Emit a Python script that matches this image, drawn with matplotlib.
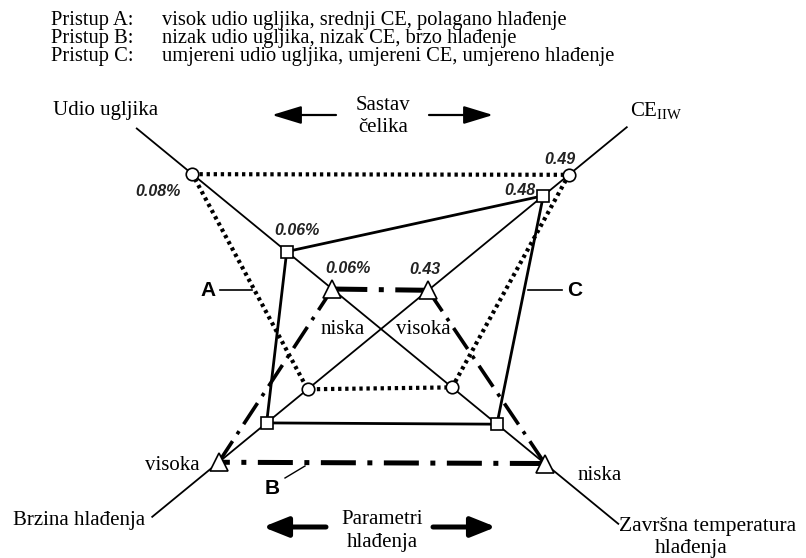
import numpy as np
import matplotlib
matplotlib.use("Agg")
import matplotlib.pyplot as plt

plt.rcParams['mathtext.fontset'] = 'custom'
plt.rcParams['mathtext.rm'] = 'Liberation Serif'

# ---------------- data ----------------
header_keys = ["Pristup A:", "Pristup B:", "Pristup C:"]
header_texts = ["visok udio ugljika, srednji CE, polagano hlađenje",
                "nizak udio ugljika, nizak CE, brzo hlađenje",
                "umjereni udio ugljika, umjereni CE, umjereno hlađenje"]

# axes of the diagram: upper-left, upper-right, lower-right, lower-left
axis_names = ["Udio ugljika", "CE$_{\\mathrm{IIW}}$", "Završna temperatura\nhlađenja", "Brzina hlađenja"]
axis_length = [316, 318, 307, 296]          # diagram units from centre

# position of each approach along each axis (diagram units from centre)
radius_A = [244, 243, 92, 95]
radius_B = [63, 61, 212, 210]
radius_C = [122, 210, 150, 148]

value_labels_A = ["0.08%", "0.49"]
value_labels_B = ["0.06%", "0.43"]
value_labels_C = ["0.06%", "0.48"]

# ---------------- geometry ----------------
W, H = 806, 558
fig = plt.figure(figsize=(W / 100, H / 100), dpi=100)
ax = fig.add_axes([0, 0, 1, 1])
ax.set_xlim(0, W)
ax.set_ylim(H, 0)
ax.axis('off')

cx, cy = 381, 329
theta = np.arctan(0.821)
c, s = np.cos(theta), np.sin(theta)
dirs = np.array([[-c, -s], [c, -s], [c, s], [-c, s]])


def pts(radii):
    r = np.asarray(radii, float)[:, None]
    return np.array([cx, cy]) + r * dirs


serif = 'Liberation Serif'
sans = 'Liberation Sans'

# axis lines
ends = pts(axis_length)
ax.plot([ends[0, 0], ends[2, 0]], [ends[0, 1], ends[2, 1]], color='k', lw=1.3, zorder=1)
ax.plot([ends[1, 0], ends[3, 0]], [ends[1, 1], ends[3, 1]], color='k', lw=1.3, zorder=1)

# approach A: dotted, circles
pA = pts(radius_A)
polyA = np.vstack([pA, pA[:1]])
ax.plot(polyA[:, 0], polyA[:, 1], color='k', lw=3.0, linestyle=(0, (0.8, 0.9)),
        dash_capstyle='butt', zorder=2)
ax.plot(pA[:, 0], pA[:, 1], 'o', ms=9, mfc='white', mec='k', mew=1.2, zorder=5)

# approach B: dash-dot, triangles
pB = pts(radius_B)
for i in range(4):
    a, b = pB[i], pB[(i + 1) % 4]
    horiz = i in (0, 2)
    lw = 3.6 if horiz else 2.6
    ax.plot([a[0], b[0]], [a[1], b[1]], color='k', lw=lw,
            linestyle=(0, (7, 2.3, 1, 2.3)), dash_capstyle='butt', zorder=2)
ax.plot(pB[:, 0], pB[:, 1], '^', ms=13, mfc='white', mec='k', mew=1.2, zorder=5)

# approach C: solid, squares
pC = pts(radius_C)
polyC = np.vstack([pC, pC[:1]])
ax.plot(polyC[:, 0], polyC[:, 1], color='k', lw=2.0, zorder=3)
ax.plot(pC[:, 0], pC[:, 1], 's', ms=8, mfc='white', mec='k', mew=1.2, zorder=5)

# value labels
vfont = dict(family=sans, fontsize=11.5, fontweight='bold', fontstyle='italic', color='#222222')
ax.text(pA[0, 0] - 12, pA[0, 1] + 17, value_labels_A[0], ha='right', va='center', **vfont)
ax.text(pA[1, 0] - 9, pA[1, 1] - 15, value_labels_A[1], ha='center', va='center', **vfont)
ax.text(pB[0, 0] + 16, pB[0, 1] - 21, value_labels_B[0], ha='center', va='center', **vfont)
ax.text(pB[1, 0] - 3, pB[1, 1] - 21, value_labels_B[1], ha='center', va='center', **vfont)
ax.text(pC[0, 0] + 10, pC[0, 1] - 21, value_labels_C[0], ha='center', va='center', **vfont)
ax.text(pC[1, 0] - 8, pC[1, 1] - 5, value_labels_C[1], ha='right', va='center', **vfont)

# header
for i, (k, t) in enumerate(zip(header_keys, header_texts)):
    y = 25.5 + i * 18
    ax.text(51, y, k, family=serif, fontsize=14.8, ha='left', va='baseline')
    ax.text(162, y, t, family=serif, fontsize=14.8, ha='left', va='baseline')

lab = dict(family=serif, fontsize=15)
ax.text(53, 115, axis_names[0], ha='left', va='baseline', **lab)
ax.text(630, 116, axis_names[1], ha='left', va='baseline', **lab)
ax.text(619, 527, "Završna temperatura", ha='left', va='center', family=serif, fontsize=15.5)
ax.text(655, 549, "hlađenja", ha='left', va='center', family=serif, fontsize=15.5)
ax.text(13, 520, axis_names[3], ha='left', va='center', **lab)

ax.text(343, 329, "niska", ha='center', va='center', **lab)
ax.text(423, 329, "visoka", ha='center', va='center', **lab)
ax.text(172, 465, "visoka", ha='center', va='center', **lab)
ax.text(600, 475, "niska", ha='center', va='center', **lab)

ax.text(383, 105, "Sastav", ha='center', va='center', **lab)
ax.text(383, 128, "čelika", ha='center', va='center', **lab)
ax.text(382, 519, "Parametri", ha='center', va='center', **lab)
ax.text(382, 543, "hlađenja", ha='center', va='center', **lab)

# arrows
thin = dict(arrowstyle='-|>,head_length=1.8,head_width=0.55', color='k', lw=1.6,
            shrinkA=0, shrinkB=0)
ax.annotate('', xy=(272, 115), xytext=(336, 115), arrowprops=thin)
ax.annotate('', xy=(493, 115), xytext=(429, 115), arrowprops=thin)
thick = dict(arrowstyle='-|>,head_length=1.5,head_width=0.6', color='k', lw=3.6,
             shrinkA=0, shrinkB=0)
ax.annotate('', xy=(263, 527), xytext=(326, 527), arrowprops=thick)
ax.annotate('', xy=(496, 527), xytext=(433, 527), arrowprops=thick)

# approach letters with leader lines
bl = dict(family=sans, fontsize=15, fontweight='bold', ha='center', va='center')
ax.text(208, 290, "A", **bl)
ax.plot([220, 252], [290, 290], color='k', lw=1.2)
ax.text(575, 290, "C", **bl)
ax.plot([528, 562], [290, 290], color='k', lw=1.2)
ax.text(272, 488, "B", **bl)
ax.plot([285, 305], [478, 466], color='k', lw=1.0)

fig.savefig("out.png", dpi=100)
